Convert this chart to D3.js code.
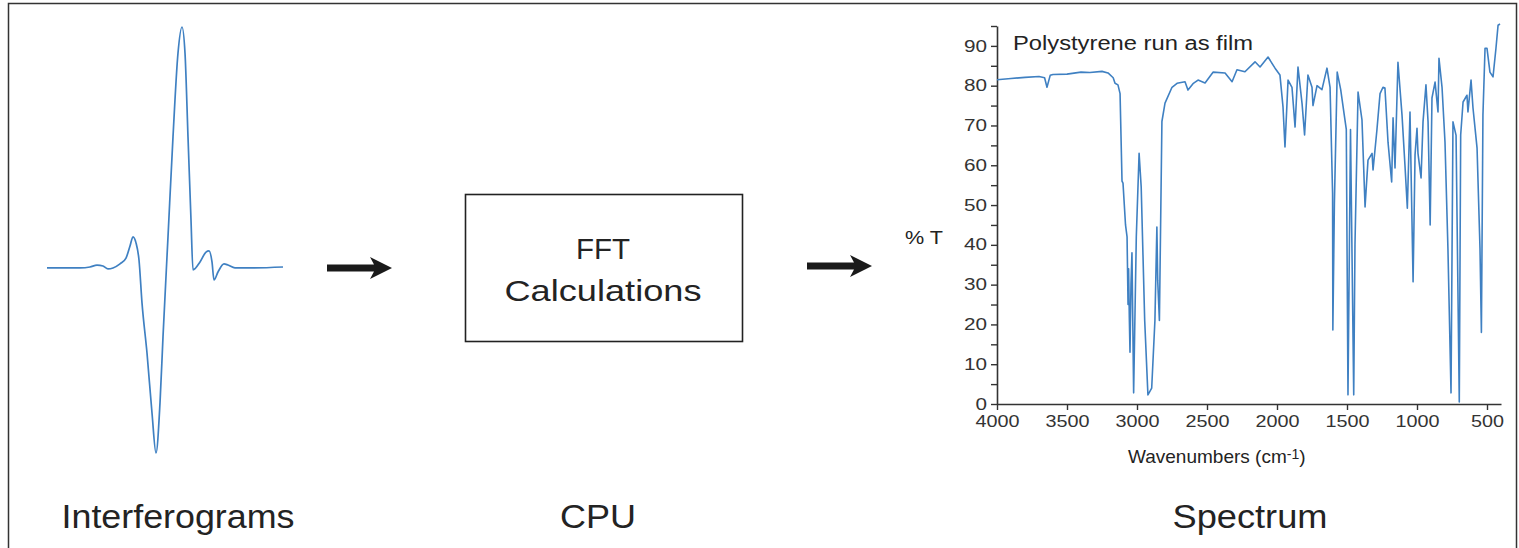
<!DOCTYPE html>
<html>
<head>
<meta charset="utf-8">
<script src="https://cdn.jsdelivr.net/npm/d3@7"></script>
<style>
  body { margin: 0; background: #fff; }
  svg { display: block; font-family: "Liberation Sans", Arial, sans-serif; }
</style>
</head>
<body>
<div id="chart"></div>
<script>
/* FTIR schematic: interferogram -> FFT -> spectrum */
const lineColor = '#3f80c2';
const inkColor = '#232323';

// interferogram (arbitrary optical path difference units, relative amplitude)
const opd = [0, 33, 43, 50, 56, 61, 66, 73, 79, 83, 86, 89, 92, 95, 100, 105, 109, 113, 116, 121,
  126, 131, 135, 138, 141, 144, 146, 153, 159, 162, 165, 167, 171, 177, 181, 188, 203, 236];
const amplitude = [0, 0, 0.4, 1.2, 0.8, -0.4, 0, 1.7, 4.1, 9.1, 12.9, 10.4, 3.3, -14.5, -35.3, -60.2, -76.8, -56.0, -28.6, 12.9,
  54.4, 89.2, 100, 89.2, 54.4, 19.9, -0.8, 2.5, 6.6, 7.1, 2.5, -5.0, -1.7, 1.7, 1.2, 0, 0, 0.4];

// polystyrene spectrum
const wavenumbers = [4000, 3900, 3800, 3700, 3660, 3643, 3620, 3600, 3500, 3400, 3336, 3250, 3207, 3170, 3157, 3136, 3121, 3107, 3100, 3082,
  3071, 3064, 3060, 3055, 3050, 3043, 3036, 3024, 3005, 2985, 2970, 2945, 2922, 2895, 2872, 2858, 2852, 2840, 2822, 2800,
  2750, 2714, 2657, 2636, 2600, 2564, 2514, 2457, 2371, 2321, 2286, 2229, 2157, 2121, 2064, 2014, 1979, 1957, 1943, 1921,
  1893, 1871, 1850, 1821, 1803, 1779, 1750, 1743, 1714, 1679, 1643, 1621, 1607, 1603, 1601, 1590, 1570, 1545, 1521, 1505,
  1493, 1475, 1452, 1443, 1421, 1393, 1371, 1350, 1321, 1314, 1286, 1264, 1243, 1229, 1207, 1181, 1171, 1157, 1136, 1107,
  1086, 1069, 1050, 1028, 1014, 1000, 993, 971, 957, 936, 921, 906, 893, 871, 850, 843, 821, 800, 779, 757,
  743, 721, 698, 688, 671, 643, 636, 614, 600, 571, 550, 540, 529, 514, 500, 479, 457, 436, 421, 407];
const transmittance = [81.5, 81.8, 82.1, 82.3, 82.0, 79.6, 82.6, 82.8, 82.9, 83.4, 83.3, 83.6, 83.2, 82.0, 80.6, 80.2, 78.0, 56.0, 55.5, 45.0,
  42.0, 25.0, 34.0, 22.0, 13.0, 30.0, 38.0, 2.8, 42.0, 63.0, 54.5, 21.0, 2.3, 4.0, 21.0, 44.5, 31.0, 21.0, 71.0, 75.6,
  79.6, 80.6, 81.0, 78.9, 80.5, 81.4, 80.7, 83.4, 83.2, 81.0, 84.0, 83.5, 86.0, 84.7, 87.2, 84.4, 82.7, 74.6, 64.6, 81.4,
  79.6, 69.6, 84.7, 75.5, 67.6, 82.7, 79.6, 75.0, 80.0, 79.0, 84.4, 79.6, 58.8, 53.0, 18.6, 50.5, 83.4, 79.0, 73.0, 69.0,
  2.3, 69.0, 2.3, 40.0, 78.4, 71.4, 49.5, 61.3, 63.0, 58.8, 69.0, 78.0, 79.6, 79.4, 65.8, 55.8, 71.9, 59.3, 85.9, 72.6,
  60.0, 49.2, 73.4, 30.7, 62.6, 69.3, 63.0, 56.8, 70.9, 80.2, 70.9, 45.0, 76.9, 80.9, 73.4, 86.9, 79.5, 65.8, 39.0, 2.8,
  70.9, 67.5, 0.5, 67.6, 75.9, 77.6, 73.4, 81.4, 74.4, 64.3, 39.0, 18.0, 72.6, 89.4, 89.4, 83.4, 82.2, 89.4, 95.2, 95.5];

const yTicks = [0, 10, 20, 30, 40, 50, 60, 70, 80, 90];
const yMinorTicks = [5, 15, 25, 35, 45, 55, 65, 75, 85, 95];
const xTicks = [4000, 3500, 3000, 2500, 2000, 1500, 1000, 500];
const stageLabels = ['Interferograms', 'CPU', 'Spectrum'];

function stretchText(sel, len) {
  return sel.attr('textLength', len).attr('lengthAdjust', 'spacingAndGlyphs');
}

function draw() {
  const W = 1519, H = 548;
  const svg = d3.select('#chart').append('svg').attr('width', W).attr('height', H);
  svg.append('rect').attr('width', W).attr('height', H).attr('fill', '#fff');

  // outer frame
  svg.append('rect').attr('x', 8.5).attr('y', 3.5).attr('width', 1508).attr('height', 600)
    .attr('fill', 'none').attr('stroke', '#333').attr('stroke-width', 1.5);

  // interferogram
  const ix = d3.scaleLinear().domain([0, 236]).range([47, 283]);
  const iy = d3.scaleLinear().domain([-76.8, 100]).range([453, 27]);
  const iline = d3.line().x((d, i) => ix(opd[i])).y(d => iy(d)).curve(d3.curveMonotoneX);
  svg.append('path').datum(amplitude).attr('d', iline)
    .attr('fill', 'none').attr('stroke', lineColor).attr('stroke-width', 1.7);

  // arrows
  const arrow = (x0, x1, y) => {
    svg.append('path')
      .attr('d', `M${x0},${y - 3.5} L${x1 - 18},${y - 3.5} L${x1 - 22},${y - 11} L${x1},${y} L${x1 - 22},${y + 11} L${x1 - 18},${y + 3.5} L${x0},${y + 3.5} Z`)
      .attr('fill', '#1a1a1a');
  };
  arrow(327, 392, 268);
  arrow(807, 872, 266);

  // FFT box
  svg.append('rect').attr('x', 465.5).attr('y', 194.5).attr('width', 277).attr('height', 147)
    .attr('fill', 'none').attr('stroke', '#222').attr('stroke-width', 1.6);
  stretchText(svg.append('text').attr('x', 603).attr('y', 259).attr('text-anchor', 'middle')
    .attr('font-size', 30).attr('fill', inkColor).text('FFT'), 54);
  stretchText(svg.append('text').attr('x', 603).attr('y', 301).attr('text-anchor', 'middle')
    .attr('font-size', 30).attr('fill', inkColor).text('Calculations'), 197);

  // spectrum axes
  const x = d3.scaleLinear().domain([4000, 400]).range([997, 1501]);
  const y = d3.scaleLinear().domain([0, 95]).range([404, 26]);

  const yAxis = svg.append('g').attr('transform', 'translate(997,0)')
    .call(d3.axisLeft(y).tickValues(yTicks).tickSize(6).tickPadding(4).tickSizeOuter(0));
  svg.append('g').attr('transform', 'translate(997,0)')
    .call(d3.axisLeft(y).tickValues(yMinorTicks).tickSize(6).tickFormat('').tickSizeOuter(0))
    .select('.domain').remove();
  const xAxis = svg.append('g').attr('transform', 'translate(0,404)')
    .call(d3.axisBottom(x).tickValues(xTicks).tickFormat(d3.format('d')).tickSize(6).tickPadding(6).tickSizeOuter(0));

  svg.selectAll('.domain').attr('stroke', '#333').attr('stroke-width', 1.6);
  svg.selectAll('.tick line').attr('stroke', '#333').attr('stroke-width', 1.4);
  yAxis.selectAll('text').attr('font-size', 16).attr('fill', '#333')
    .attr('font-family', '"Liberation Sans", Arial, sans-serif')
    .each(function (d) { stretchText(d3.select(this), String(d).length * 11.5); });
  xAxis.selectAll('text').attr('font-size', 16).attr('fill', '#333')
    .attr('font-family', '"Liberation Sans", Arial, sans-serif')
    .each(function (d) { stretchText(d3.select(this), String(d).length * 11); });

  // spectrum line
  const sline = d3.line().x((d, i) => x(wavenumbers[i])).y(d => y(d));
  svg.append('path').datum(transmittance).attr('d', sline)
    .attr('fill', 'none').attr('stroke', lineColor).attr('stroke-width', 1.6)
    .attr('stroke-linejoin', 'round');

  // spectrum labels
  stretchText(svg.append('text').attr('x', 1013).attr('y', 50)
    .attr('font-size', 20).attr('fill', inkColor).text('Polystyrene run as film'), 240);
  stretchText(svg.append('text').attr('x', 905).attr('y', 244)
    .attr('font-size', 19).attr('fill', inkColor).text('% T'), 38);
  const xl = svg.append('text').attr('x', 1128).attr('y', 463)
    .attr('font-size', 19).attr('fill', inkColor);
  xl.append('tspan').text('Wavenumbers (cm');
  xl.append('tspan').attr('dy', -4).attr('font-size', 14).text('-1');
  xl.append('tspan').attr('dy', 4).text(')');

  // stage labels
  const stageX = [178, 598, 1250];
  const stageW = [233, 76, 155];
  stageLabels.forEach((t, i) => {
    stretchText(svg.append('text').attr('x', stageX[i]).attr('y', 528).attr('text-anchor', 'middle')
      .attr('font-size', 33).attr('fill', inkColor).text(t), stageW[i]);
  });
}

draw();
</script>
</body>
</html>
